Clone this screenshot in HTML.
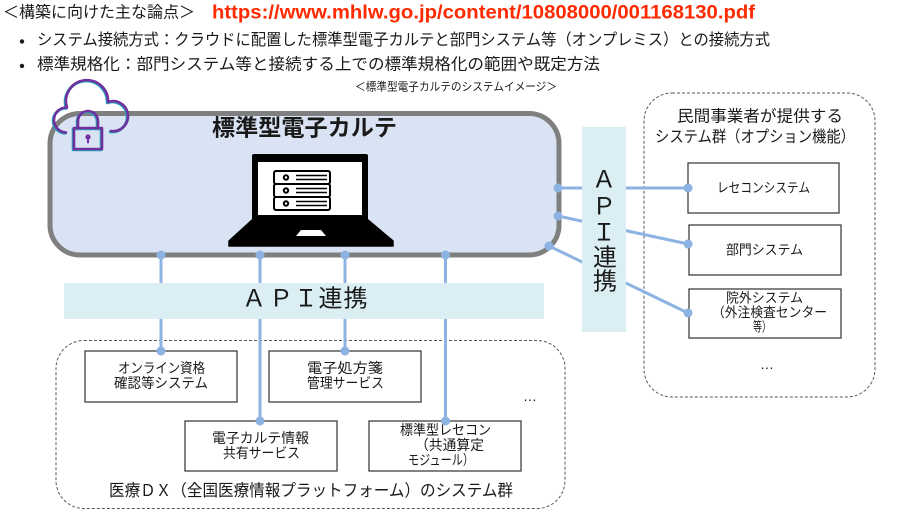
<!DOCTYPE html>
<html><head><meta charset="utf-8">
<style>
html,body{margin:0;padding:0;background:#fff;}
svg{display:block;}
text{font-family:"Liberation Sans","Noto Sans CJK JP",sans-serif;fill:#1a1a1a;}
.c{dominant-baseline:central;}
</style></head>
<body>
<svg width="900" height="527" viewBox="0 0 900 527" xmlns="http://www.w3.org/2000/svg">
<!-- header texts -->
<text class="c" x="3" y="13" font-size="16" textLength="192" lengthAdjust="spacingAndGlyphs">＜構築に向けた主な論点＞</text>
<text x="212" y="18.5" font-size="19" font-weight="bold" style="fill:#ff2a00" textLength="543" lengthAdjust="spacingAndGlyphs">https://www.mhlw.go.jp/content/10808000/001168130.pdf</text>
<circle cx="22" cy="41.5" r="2.2" fill="#1a1a1a"/>
<text class="c" x="37" y="40.5" font-size="16" textLength="733" lengthAdjust="spacingAndGlyphs">システム接続方式：クラウドに配置した標準型電子カルテと部門システム等（オンプレミス）との接続方式</text>
<circle cx="22" cy="66" r="2.2" fill="#1a1a1a"/>
<text class="c" x="37" y="65" font-size="16" textLength="563" lengthAdjust="spacingAndGlyphs">標準規格化：部門システム等と接続する上での標準規格化の範囲や既定方法</text>
<text class="c" x="355" y="87.5" font-size="11.5" textLength="202" lengthAdjust="spacingAndGlyphs">＜標準型電子カルテのシステムイメージ＞</text>

<!-- dashed group boxes -->
<rect x="644" y="93" width="231" height="304" rx="28" fill="none" stroke="#595959" stroke-width="1" stroke-dasharray="3 2"/>
<rect x="56" y="340.5" width="509" height="168" rx="28" fill="none" stroke="#595959" stroke-width="1" stroke-dasharray="3 2"/>

<!-- main box -->
<rect x="50" y="113.5" width="509" height="141.5" rx="30" fill="#dae3f3" stroke="#7f7f7f" stroke-width="5"/>
<text class="c" x="212" y="127.5" font-size="23" font-weight="bold" textLength="185" lengthAdjust="spacingAndGlyphs">標準型電子カルテ</text>

<!-- laptop -->
<rect x="252" y="154" width="116" height="67" rx="2" fill="#000"/>
<rect x="258" y="162" width="104" height="53" fill="#fff"/>
<polygon points="252,220 368,220 393,241 393,246 229,246 229,241" fill="#000" stroke="#000" stroke-width="1.5" stroke-linejoin="round"/>
<polygon points="301,230 321,230 326,236 296,236" fill="#fff"/>
<g fill="#fff" stroke="#000" stroke-width="2">
<rect x="274" y="171" width="56" height="13" rx="2"/>
<rect x="274" y="184" width="56" height="13" rx="2"/>
<rect x="274" y="197" width="56" height="13" rx="2"/>
<circle cx="286" cy="177.5" r="2.2"/>
<circle cx="286" cy="190.5" r="2.2"/>
<circle cx="286" cy="203.5" r="2.2"/>
</g>
<g stroke="#000" stroke-width="1.6">
<line x1="296" y1="175.5" x2="327" y2="175.5"/><line x1="296" y1="179.5" x2="327" y2="179.5"/>
<line x1="296" y1="188.5" x2="327" y2="188.5"/><line x1="296" y1="192.5" x2="327" y2="192.5"/>
<line x1="296" y1="201.5" x2="327" y2="201.5"/><line x1="296" y1="205.5" x2="327" y2="205.5"/>
</g>

<!-- cloud lock icon -->
<g fill="none" stroke-linecap="round" stroke-linejoin="round">
<g stroke="#2aa0b8" stroke-width="3" transform="translate(-0.8,0.8)">
<path d="M 66 132.5 A 12.5 12.5 0 0 1 67 107.5 A 21 21 0 1 1 108 102 A 15 15 0 1 1 111 131"/>
<path d="M 78 128 V 121 A 10 10 0 0 1 98 121 V 128"/>
<rect x="74" y="128" width="28" height="21"/>
</g>
<g stroke="#7030a0" stroke-width="2.6">
<path d="M 66 132.5 A 12.5 12.5 0 0 1 67 107.5 A 21 21 0 1 1 108 102 A 15 15 0 1 1 111 131"/>
<path d="M 78 128 V 121 A 10 10 0 0 1 98 121 V 128"/>
<rect x="74" y="128" width="28" height="21"/>
</g>
<circle cx="88" cy="137" r="2.6" fill="#7030a0" stroke="none"/>
<line x1="88" y1="137" x2="88" y2="142.5" stroke="#7030a0" stroke-width="2"/>
</g>

<!-- connector lines -->
<g stroke="#8db3e2" stroke-width="3" fill="none">
<line x1="161" y1="255" x2="161" y2="351"/>
<line x1="260" y1="255" x2="260" y2="421"/>
<line x1="345" y1="255" x2="345" y2="351"/>
<line x1="445.5" y1="255" x2="445.5" y2="421"/>
<line x1="558" y1="188" x2="688" y2="188"/>
<line x1="558" y1="216" x2="688" y2="244"/>
<line x1="549" y1="246" x2="688" y2="313"/>
</g>

<!-- API boxes -->
<rect x="64" y="283" width="480" height="36" fill="#daeef3"/>
<g font-size="24">
<text class="c" x="254" y="299" text-anchor="middle">Ａ</text>
<text class="c" x="281" y="299" text-anchor="middle">Ｐ</text>
<text class="c" x="306" y="299" text-anchor="middle">Ｉ</text>
<text class="c" x="330.5" y="299" text-anchor="middle">連</text>
<text class="c" x="355.5" y="299" text-anchor="middle">携</text>
</g>
<rect x="582" y="127" width="44" height="205" fill="#daeef3"/>
<g font-size="24">
<text class="c" x="604" y="180" text-anchor="middle">Ａ</text>
<text class="c" x="604" y="207" text-anchor="middle">Ｐ</text>
<text class="c" x="604" y="233" text-anchor="middle">Ｉ</text>
<text class="c" x="605" y="258" text-anchor="middle">連</text>
<text class="c" x="605" y="282" text-anchor="middle">携</text>
</g>

<!-- right group -->
<text class="c" x="677" y="117" font-size="16" textLength="166" lengthAdjust="spacingAndGlyphs">民間事業者が提供する</text>
<text class="c" x="655" y="137.5" font-size="16" textLength="200" lengthAdjust="spacingAndGlyphs">システム群（オプション機能）</text>
<g fill="#fff" stroke="#404040" stroke-width="1.3">
<rect x="688" y="163" width="151" height="50"/>
<rect x="689" y="225" width="152" height="50"/>
<rect x="689" y="289" width="152" height="49"/>
</g>
<text class="c" x="717" y="188" font-size="13.5" textLength="93" lengthAdjust="spacingAndGlyphs">レセコンシステム</text>
<text class="c" x="726" y="250" font-size="13.5" textLength="77" lengthAdjust="spacingAndGlyphs">部門システム</text>
<text class="c" x="726" y="298" font-size="13.5" textLength="77" lengthAdjust="spacingAndGlyphs">院外システム</text>
<text class="c" x="712" y="312.5" font-size="13.5" textLength="115" lengthAdjust="spacingAndGlyphs">（外注検査センター</text>
<text class="c" x="753" y="327" font-size="13.5" textLength="18" lengthAdjust="spacingAndGlyphs">等）</text>
<text class="c" x="767" y="364" font-size="14" text-anchor="middle">…</text>

<!-- bottom group boxes -->
<g fill="#fff" stroke="#404040" stroke-width="1.3">
<rect x="85" y="351" width="152" height="51"/>
<rect x="269" y="351" width="152" height="51"/>
<rect x="185" y="421" width="152" height="50"/>
<rect x="369" y="421" width="152" height="50"/>
</g>
<text class="c" x="118" y="368" font-size="14" textLength="87" lengthAdjust="spacingAndGlyphs">オンライン資格</text>
<text class="c" x="114" y="383" font-size="14" textLength="94" lengthAdjust="spacingAndGlyphs">確認等システム</text>
<text class="c" x="307" y="368" font-size="14" textLength="76" lengthAdjust="spacingAndGlyphs">電子処方箋</text>
<text class="c" x="307" y="383" font-size="14" textLength="77" lengthAdjust="spacingAndGlyphs">管理サービス</text>
<text class="c" x="212" y="438" font-size="14" textLength="97" lengthAdjust="spacingAndGlyphs">電子カルテ情報</text>
<text class="c" x="223" y="453" font-size="14" textLength="77" lengthAdjust="spacingAndGlyphs">共有サービス</text>
<text class="c" x="400" y="430" font-size="14" textLength="91" lengthAdjust="spacingAndGlyphs">標準型レセコン</text>
<text class="c" x="415" y="445" font-size="14" textLength="69" lengthAdjust="spacingAndGlyphs">（共通算定</text>
<text class="c" x="408" y="460" font-size="14" textLength="66" lengthAdjust="spacingAndGlyphs">モジュール）</text>
<text class="c" x="530" y="396" font-size="14" text-anchor="middle">…</text>
<text class="c" x="109" y="491" font-size="16.5" textLength="404" lengthAdjust="spacingAndGlyphs">医療ＤＸ（全国医療情報プラットフォーム）のシステム群</text>

<!-- dots -->
<g fill="#8db3e2">
<circle cx="161" cy="255" r="4.5"/><circle cx="260" cy="255" r="4.5"/><circle cx="345" cy="255" r="4.5"/><circle cx="445.5" cy="255" r="4.5"/>
<circle cx="161" cy="351" r="4.5"/><circle cx="345" cy="351" r="4.5"/><circle cx="260" cy="421" r="4.5"/><circle cx="445.5" cy="421" r="4.5"/>
<circle cx="558" cy="188" r="4.5"/><circle cx="558" cy="216" r="4.5"/><circle cx="549" cy="246" r="4.5"/>
<circle cx="688" cy="188" r="4.5"/><circle cx="688" cy="244" r="4.5"/><circle cx="688" cy="313" r="4.5"/>
</g>
</svg>
</body></html>
